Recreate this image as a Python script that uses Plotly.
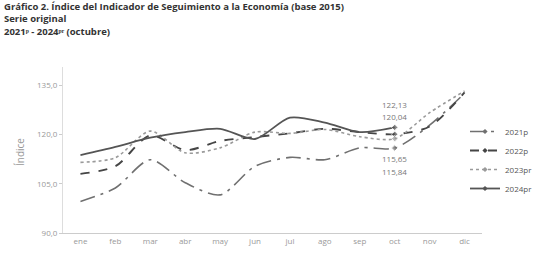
import plotly.graph_objects as go

months = ["ene", "feb", "mar", "abr", "may", "jun", "jul", "ago", "sep", "oct", "nov", "dic"]
s2021 = [99.6, 103.7, 112.3, 105.3, 101.6, 110.3, 113.0, 112.3, 115.9, 115.84, 122.8, 132.5]
s2022 = [108.0, 110.3, 119.7, 115.2, 118.0, 119.2, 120.3, 121.7, 120.7, 120.04, 122.4, 132.8]
s2023 = [111.5, 112.9, 121.0, 114.4, 115.9, 120.7, 120.3, 121.5, 119.3, 118.7, 126.6, 133.2]
s2024 = [113.7, 116.2, 119.0, 120.7, 121.7, 118.6, 125.1, 123.6, 120.7, 122.13]
series_names = ["2021p", "2022p", "2023pr", "2024pr"]
oct_labels_top = ["122,13", "120,04"]
oct_labels_bottom = ["115,65", "115,84"]
y_ticks = [90, 105, 120, 135]
y_tick_text = ["90,0", "105,0", "120,0", "135,0"]
title_lines = [
    "Gráfico 2. Índice del Indicador de Seguimiento a la Economía (base 2015)",
    "Serie original",
    "2021ᵖ - 2024ᵖʳ (octubre)",
]

font = "Open Sans"
styles = [
    ("longdashdot", "#707070", 1.6),
    ("dash", "#454545", 1.9),
    ("dot", "#9a9a9a", 1.6),
    ("solid", "#555555", 1.8),
]

fig = go.Figure()
for name, vals, (dash, color, w) in zip(series_names, [s2021, s2022, s2023, s2024], styles):
    sizes = [5 if m == "oct" else 0 for m in months[:len(vals)]]
    fig.add_trace(go.Scatter(
        x=months[:len(vals)], y=vals, name=name, mode="lines+markers", showlegend=False,
        line=dict(dash=dash, color=color, width=w, shape="spline", smoothing=0.8),
        marker=dict(size=sizes, color=color, symbol="diamond"),
    ))
for name, (dash, color, w) in zip(series_names, styles):
    fig.add_trace(go.Scatter(
        x=[None], y=[None], name=name, mode="lines+markers",
        line=dict(dash=dash, color=color, width=w),
        marker=dict(size=4, color=color, symbol="diamond"),
    ))

H0, H1 = 233, 67
def py(p):
    return (H0 - p) / (H0 - H1)

ann = []
ann.append(dict(text="<br>".join("<b>%s</b>" % t for t in title_lines),
                xref="paper", yref="paper", x=-61/419, y=py(-2),
                xanchor="left", yanchor="top", align="left", showarrow=False,
                font=dict(family=font, size=9.5, color="#333333")))
for t, p in zip(oct_labels_top, [104, 116]):
    ann.append(dict(text=t, xref="x", yref="paper", x="oct", y=py(p), showarrow=False,
                    xanchor="center", yanchor="middle", font=dict(family=font, size=8, color="#777777")))
for t, p in zip(oct_labels_bottom, [158, 171]):
    ann.append(dict(text=t, xref="x", yref="paper", x="oct", y=py(p), showarrow=False,
                    xanchor="center", yanchor="middle", font=dict(family=font, size=8, color="#777777")))
ann.append(dict(text="Índice", xref="paper", yref="paper", x=-43/419, y=py(152), textangle=-90,
                xanchor="center", yanchor="middle", showarrow=False,
                font=dict(family=font, size=10, color="#999999")))

fig.update_layout(
    width=535, height=256,
    margin=dict(l=63, r=53, t=67, b=23, autoexpand=False),
    paper_bgcolor="white", plot_bgcolor="white",
    font=dict(family=font, size=8, color="#888888"),
    showlegend=True,
    legend=dict(xref="container", yref="container", x=465/535, y=1 - 117/256,
                xanchor="left", yanchor="top",
                font=dict(family=font, size=8, color="#555555"),
                tracegroupgap=0, itemwidth=30, bgcolor="rgba(0,0,0,0)"),
    annotations=ann,
    xaxis=dict(type="category", categoryorder="array", categoryarray=months,
               showline=True, linecolor="#cccccc", linewidth=1, showgrid=False,
               ticks="", tickfont=dict(family=font, size=8, color="#999999"),
               range=[-0.5, 11.5], automargin=False),
    yaxis=dict(range=[90, 140.5], tickvals=y_ticks, ticktext=y_tick_text,
               showline=True, linecolor="#dddddd", linewidth=1, showgrid=False,
               ticks="outside", ticklen=3, tickcolor="#cccccc",
               tickfont=dict(family=font, size=8, color="#999999"),
               automargin=False, zeroline=False),
)
fig.write_html("out.html", config={"displayModeBar": False},
               post_script="document.body.style.margin='0';")
